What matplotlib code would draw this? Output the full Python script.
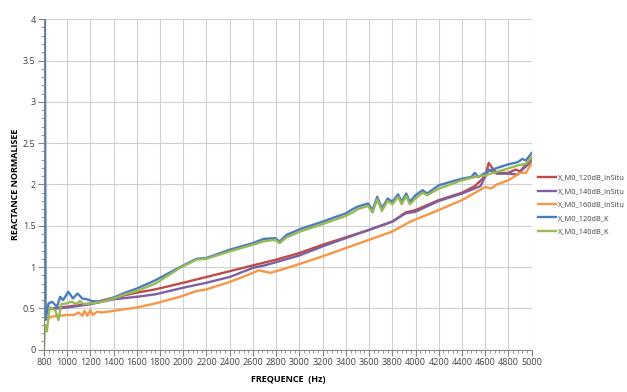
import matplotlib
matplotlib.use("Agg")
import matplotlib.pyplot as plt
from matplotlib.ticker import MultipleLocator, FuncFormatter

# values (frequency in Hz, normalised reactance)
f_red = [800, 1000, 1200, 1400, 1600, 1760, 2000, 2200, 2400, 2600, 2800, 3000,
         3200, 3400, 3600, 3800, 3914, 4000, 4200, 4400, 4510, 4600, 4630, 4660,
         4700, 4800, 4860, 4900, 5000]
x_red = [0.49, 0.52, 0.56, 0.63, 0.69, 0.73, 0.81, 0.88, 0.95, 1.02, 1.09, 1.17,
         1.27, 1.36, 1.45, 1.55, 1.66, 1.69, 1.81, 1.90, 1.98, 2.10, 2.26, 2.20,
         2.14, 2.14, 2.18, 2.16, 2.32]

f_purple = [800, 840, 1000, 1200, 1400, 1600, 1760, 2000, 2200, 2400, 2600, 2700,
            2800, 3000, 3200, 3400, 3600, 3800, 3914, 4000, 4200, 4400, 4560, 4600,
            4630, 4700, 4800, 4880, 4920, 5000]
x_purple = [0.46, 0.49, 0.51, 0.55, 0.61, 0.64, 0.67, 0.75, 0.81, 0.88, 0.99, 1.02,
            1.06, 1.14, 1.25, 1.35, 1.45, 1.55, 1.65, 1.67, 1.80, 1.89, 1.98, 2.10,
            2.18, 2.13, 2.13, 2.12, 2.18, 2.28]

f_orange = [800, 870, 1000, 1060, 1100, 1130, 1150, 1175, 1200, 1220, 1260, 1300,
            1400, 1600, 1760, 1972, 2115, 2200, 2400, 2548, 2650, 2750, 2850, 3007,
            3200, 3400, 3600, 3800, 3955, 4200, 4400, 4600, 4650, 4700, 4800, 4900,
            4950, 5000]
x_orange = [0.36, 0.40, 0.42, 0.42, 0.45, 0.41, 0.47, 0.41, 0.48, 0.42, 0.46, 0.45,
            0.47, 0.51, 0.56, 0.64, 0.71, 0.73, 0.82, 0.90, 0.96, 0.93, 0.97, 1.04,
            1.13, 1.23, 1.33, 1.43, 1.55, 1.69, 1.81, 1.97, 1.95, 2.00, 2.05, 2.14,
            2.14, 2.26]

f_blue = [800, 815, 840, 870, 913, 940, 965, 1010, 1050, 1090, 1130, 1170, 1210,
          1300, 1400, 1500, 1600, 1760, 1972, 2115, 2200, 2400, 2600, 2690, 2790,
          2830, 2890, 3007, 3200, 3400, 3457, 3500, 3590, 3630, 3670, 3710, 3760,
          3800, 3850, 3880, 3920, 3950, 4000, 4060, 4100, 4200, 4400, 4480, 4510,
          4540, 4600, 4640, 4790, 4880, 4920, 4950, 5000]
x_blue = [9.0, 0.36, 0.56, 0.58, 0.52, 0.64, 0.60, 0.70, 0.62, 0.68, 0.62, 0.61, 0.59,
          0.58, 0.63, 0.69, 0.74, 0.84, 1.00, 1.10, 1.11, 1.21, 1.29, 1.34, 1.35,
          1.31, 1.39, 1.46, 1.55, 1.65, 1.70, 1.73, 1.77, 1.69, 1.85, 1.71, 1.83,
          1.79, 1.88, 1.79, 1.89, 1.79, 1.87, 1.93, 1.89, 1.99, 2.07, 2.09, 2.14,
          2.09, 2.14, 2.17, 2.24, 2.27, 2.31, 2.29, 2.38]

f_green = [800, 810, 825, 850, 870, 900, 925, 950, 990, 1040, 1080, 1110, 1140,
           1210, 1300, 1400, 1500, 1600, 1760, 1972, 2115, 2200, 2400, 2600, 2690,
           2790, 2830, 2890, 3007, 3200, 3400, 3457, 3500, 3590, 3630, 3670, 3710,
           3760, 3800, 3850, 3880, 3920, 3950, 4000, 4060, 4100, 4200, 4400, 4510,
           4600, 4790, 4880, 4950, 5000]
x_green = [0.0, 0.30, 0.22, 0.51, 0.50, 0.47, 0.36, 0.55, 0.56, 0.58, 0.55, 0.59, 0.55,
           0.56, 0.58, 0.62, 0.67, 0.71, 0.80, 0.99, 1.09, 1.10, 1.19, 1.27, 1.31,
           1.33, 1.29, 1.36, 1.43, 1.52, 1.62, 1.66, 1.70, 1.74, 1.66, 1.82, 1.68,
           1.80, 1.76, 1.85, 1.76, 1.86, 1.76, 1.83, 1.90, 1.87, 1.95, 2.05, 2.09,
           2.11, 2.19, 2.23, 2.25, 2.33]

series = [
    ("X_M0_120dB_InSitu", f_red, x_red, "#BE4B48"),
    ("X_M0_140dB_InSitu", f_purple, x_purple, "#7D60A0"),
    ("X_M0_160dB_InSitu", f_orange, x_orange, "#F79646"),
    ("X_M0_120dB_K", f_blue, x_blue, "#4A7EBB"),
    ("X_M0_140dB_K", f_green, x_green, "#98B954"),
]

plt.rcParams['font.family'] = ['Open Sans', 'DejaVu Sans']

fig = plt.figure(figsize=(6.27, 3.92), dpi=100)
ax = fig.add_axes([0.070, 0.108, 0.778, 0.843])

for name, f, x, c in series:
    ax.plot(f, x, color=c, lw=1.7, label=name, solid_joinstyle='round')

ax.set_xlim(800, 5000)
ax.set_ylim(0, 4)
ax.xaxis.set_major_locator(MultipleLocator(200))
ax.xaxis.set_minor_locator(MultipleLocator(40))
ax.yaxis.set_major_locator(MultipleLocator(0.5))
ax.yaxis.set_minor_locator(MultipleLocator(0.1))
ax.yaxis.set_major_formatter(FuncFormatter(lambda v, p: '%g' % v))
ax.grid(True, which='major', color='#D0D0D0', lw=0.8)
ax.set_axisbelow(True)
ax.tick_params(which='major', length=4, color='#868686', labelsize=6.5,
               labelcolor='#404040', pad=2)
ax.tick_params(which='minor', length=2, color='#868686')
for s in ['top', 'right']:
    ax.spines[s].set_visible(False)
for s in ['left', 'bottom']:
    ax.spines[s].set_color('#868686')

ax.set_xlabel('FREQUENCE  (Hz)', fontsize=6.5, fontweight='bold', labelpad=6)
ax.set_ylabel('REACTANCE NORMALISEE', fontsize=6.5, fontweight='bold', labelpad=2)

# legend right of the plot, squeezed so the long names stay inside the figure
fig.legend(loc='center left', bbox_to_anchor=(0.853, 0.477), frameon=False,
           fontsize=5.3, handlelength=2.5, handletextpad=0.2, labelspacing=0.85,
           borderaxespad=0, labelcolor='#404040')

plt.savefig('out.png', dpi=100)
